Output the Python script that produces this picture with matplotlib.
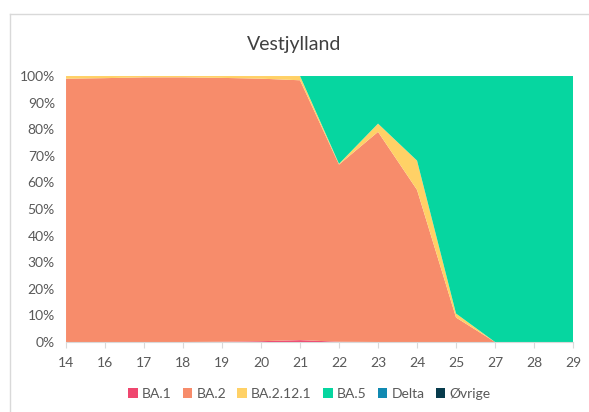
import matplotlib.pyplot as plt
from matplotlib.lines import Line2D
from matplotlib.patches import Patch
from matplotlib.ticker import PercentFormatter

plt.rcParams['font.family'] = ['Lato', 'DejaVu Sans']

uger = ['14', '16', '17', '18', '19', '20', '21', '22', '23', '24', '25', '27', '28', '29']
ba1 = [0.0, 0.0, 0.0, 0.0, 0.1, 0.3, 0.7, 0.1, 0.0, 0.0, 0.0, 0.0, 0.0, 0.0]
ba2 = [99.0, 99.2, 99.5, 99.5, 99.2, 98.7, 97.7, 66.6, 79.0, 57.2, 9.2, 0.0, 0.0, 0.0]
ba2121 = [1.0, 0.8, 0.5, 0.5, 0.7, 1.0, 1.6, 0.3, 3.1, 11.0, 1.5, 0.0, 0.0, 0.0]
ba5 = [0.0, 0.0, 0.0, 0.0, 0.0, 0.0, 0.0, 33.0, 17.9, 31.8, 89.3, 100.0, 100.0, 100.0]
delta = [0.0] * 14
oevrige = [0.0] * 14

navne = ['BA.1', 'BA.2', 'BA.2.12.1', 'BA.5', 'Delta', 'Øvrige']
farver = ['#EF476F', '#F78C6B', '#FFD166', '#06D6A0', '#118AB2', '#073B4C']

fig = plt.figure(figsize=(5.89, 4.12), dpi=100)
ax = fig.add_axes([0.1121, 0.1699, 0.8608, 0.6456])

x = list(range(len(uger)))
ax.stackplot(x, ba1, ba2, ba2121, ba5, delta, oevrige, colors=farver, linewidth=0)

ax.set_xlim(0, len(uger) - 1)
ax.set_ylim(0, 100)
ax.set_xticks(x)
ax.set_xticklabels(uger)
ax.set_yticks(range(0, 101, 10))
ax.yaxis.set_major_formatter(PercentFormatter(decimals=0))
ax.tick_params(axis='y', length=0, pad=8, labelsize=10, labelcolor='#595959')
ax.tick_params(axis='x', length=4, color='#D9D9D9', pad=7, labelsize=10, labelcolor='#595959')
for s in ['top', 'right', 'left']:
    ax.spines[s].set_visible(False)
ax.spines['bottom'].set_color('#D9D9D9')

fig.text(0.5, 0.893, 'Vestjylland', ha='center', va='center', fontsize=14, color='#404040')

handles = [Patch(facecolor=c, edgecolor='none') for c in farver]
fig.legend(handles, navne, loc='center', bbox_to_anchor=(0.525, 0.044), ncol=6, frameon=False,
           fontsize=10, labelcolor='#595959', handlelength=0.7, handleheight=0.7,
           handletextpad=0.3, columnspacing=0.8)

# ramme rundt om diagrammet
fig.add_artist(Line2D([10 / 589, 10 / 589], [0, 1 - 14 / 412], color='#D9D9D9', lw=1))
fig.add_artist(Line2D([10 / 589, 1], [1 - 14 / 412, 1 - 14 / 412], color='#D9D9D9', lw=1))

fig.savefig('out.png', dpi=100)
